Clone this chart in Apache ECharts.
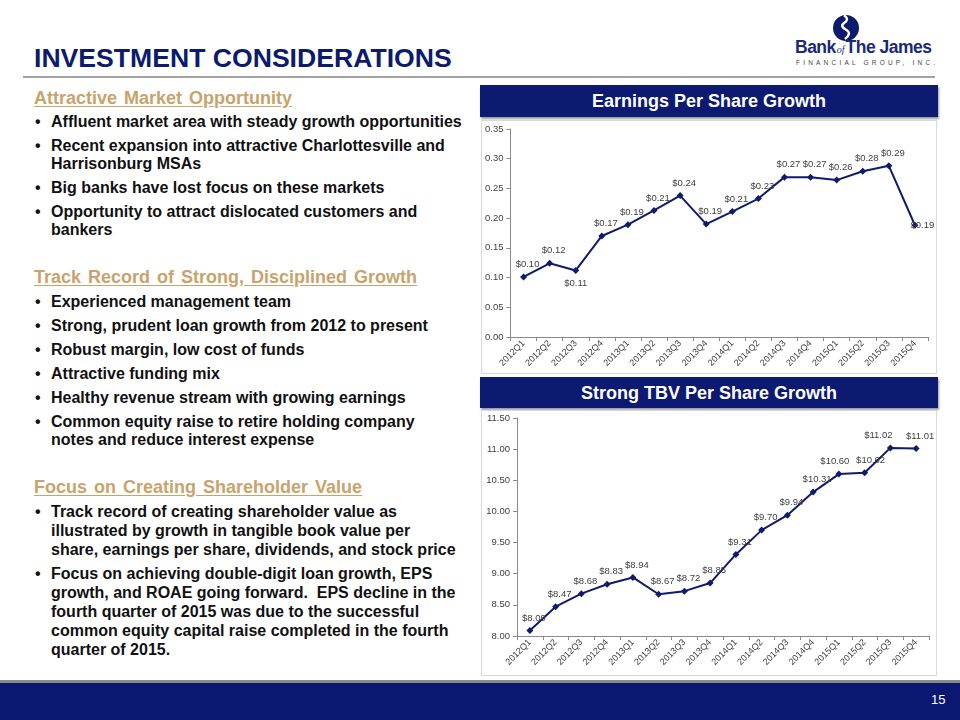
<!DOCTYPE html>
<html>
<head>
<meta charset="utf-8">
<script src="https://cdn.jsdelivr.net/npm/echarts@6/dist/echarts.min.js"></script>
<style>
  html,body{margin:0;padding:0;}
  body{width:960px;height:720px;position:relative;background:#fff;overflow:hidden;font-family:'Liberation Sans',Arial,sans-serif;}
  .abs{position:absolute;}
  .title{left:34px;top:43px;font-size:26.6px;font-weight:bold;color:#0c1b6e;line-height:30px;white-space:nowrap;}
  .head{left:34px;font-size:18px;font-weight:bold;color:#c9a36b;text-decoration:underline;text-underline-offset:2px;line-height:20px;white-space:nowrap;word-spacing:2px;}
  .list{left:34px;width:440px;font-size:16px;font-weight:bold;color:#111;}
  .b{position:relative;padding-left:17px;}
  .b:before{content:"\2022";position:absolute;left:1px;top:0;}
  .s1 .b{line-height:18px;margin-bottom:6px;}
  .s3 .b{line-height:19px;margin-bottom:5px;}
  .hbox{left:480px;width:458px;background:#0c1a72;color:#fff;font-size:18px;font-weight:bold;text-align:center;box-shadow:1px 2px 2px #9a9a9a;}
  .cbox{left:481px;width:456px;border:1px solid #d9d9d9;box-sizing:border-box;background:#fff;}
  .cbox div.c{width:100%;height:100%;}
</style>
</head>
<body>
<div class="abs title">INVESTMENT CONSIDERATIONS</div>

<!-- logo -->
<svg class="abs" style="left:820px;top:8px" width="60" height="40" viewBox="820 8 60 40">
  <circle cx="846" cy="28" r="13" fill="#0c1b6e"/>
  <path d="M844 15.5 q6 3.5 0 7.5 q-4.5 3.5 2.5 7 q5.5 3.5 -1.5 9" stroke="#fff" stroke-width="2.4" fill="none"/>
</svg>
<div class="abs" style="left:795px;top:37px;font-size:17.5px;font-weight:bold;color:#1a2a78;letter-spacing:-0.5px;white-space:nowrap;line-height:20px;">Bank<span style="font-size:10px;font-style:italic;font-weight:normal;letter-spacing:0;font-family:'Liberation Serif',serif;margin:0 1px;">of</span>The James</div>
<div class="abs" style="left:796px;top:59px;width:142px;font-size:6.5px;color:#444;letter-spacing:3.2px;white-space:nowrap;line-height:8px;">FINANCIAL GROUP, INC.</div>

<div class="abs" style="left:23px;top:76px;width:912px;height:2px;background:#a3a3a3;"></div>

<!-- left text -->
<div class="abs head" style="top:88px;">Attractive Market Opportunity</div>
<div class="abs list s1" style="top:113px;">
  <div class="b">Affluent market area with steady growth opportunities</div>
  <div class="b">Recent expansion into attractive Charlottesville and<br>Harrisonburg MSAs</div>
  <div class="b">Big banks have lost focus on these markets</div>
  <div class="b">Opportunity to attract dislocated customers and<br>bankers</div>
</div>

<div class="abs head" style="top:267px;">Track Record of Strong, Disciplined Growth</div>
<div class="abs list s1" style="top:293px;">
  <div class="b">Experienced management team</div>
  <div class="b">Strong, prudent loan growth from 2012 to present</div>
  <div class="b">Robust margin, low cost of funds</div>
  <div class="b">Attractive funding mix</div>
  <div class="b">Healthy revenue stream with growing earnings</div>
  <div class="b">Common equity raise to retire holding company<br>notes and reduce interest expense</div>
</div>

<div class="abs head" style="top:477px;">Focus on Creating Shareholder Value</div>
<div class="abs list s3" style="top:502px;">
  <div class="b">Track record of creating shareholder value as<br>illustrated by growth in tangible book value per<br>share, earnings per share, dividends, and stock price</div>
  <div class="b">Focus on achieving double-digit loan growth, EPS<br>growth, and ROAE going forward.&nbsp; EPS decline in the<br>fourth quarter of 2015 was due to the successful<br>common equity capital raise completed in the fourth<br>quarter of 2015.</div>
</div>

<!-- chart headers and boxes -->
<div class="abs hbox" style="top:85px;height:32px;line-height:33px;">Earnings Per Share Growth</div>
<div class="abs cbox" style="top:120px;height:254px;"><div class="c" id="c1"></div></div>
<div class="abs hbox" style="top:377px;height:31px;line-height:32px;">Strong TBV Per Share Growth</div>
<div class="abs cbox" style="top:410px;height:266px;"><div class="c" id="c2"></div></div>

<!-- footer -->
<div class="abs" style="left:0;top:680px;width:960px;height:3px;background:#8c8c8c;"></div>
<div class="abs" style="left:0;top:683px;width:960px;height:37px;background:#0a1872;"></div>
<div class="abs" style="left:931px;top:692px;font-size:13px;color:#fff;line-height:16px;">15</div>

<script>
const quarters = ['2012Q1','2012Q2','2012Q3','2012Q4','2013Q1','2013Q2','2013Q3','2013Q4',
                  '2014Q1','2014Q2','2014Q3','2014Q4','2015Q1','2015Q2','2015Q3','2015Q4'];
const epsValues = [0.101,0.124,0.112,0.170,0.189,0.213,0.238,0.190,0.211,0.233,0.269,0.269,0.264,0.279,0.288,0.188];
const tbvValues = [8.09,8.47,8.68,8.83,8.94,8.67,8.72,8.85,9.31,9.70,9.94,10.31,10.60,10.62,11.02,11.01];
const epsAxis = {min:0, max:0.35, interval:0.05};
const tbvAxis = {min:8, max:11.5, interval:0.5};

const NAVY = '#0f1b6c';
const AXIS = '#8a8a8a';
const TXT = '#404040';
const FONT = "'Liberation Sans', Arial, sans-serif";

function build(values, axis, grid, labelFor) {
  return {
    animation:false,
    grid: grid,
    xAxis:{
      type:'category', data:quarters, boundaryGap:true,
      axisLine:{lineStyle:{color:AXIS,width:1}},
      axisTick:{show:true,length:4,lineStyle:{color:AXIS}},
      axisLabel:{rotate:45,interval:0,fontSize:9,color:TXT,margin:5,fontFamily:FONT}
    },
    yAxis:{
      type:'value', min:axis.min, max:axis.max, interval:axis.interval,
      axisLine:{show:true,lineStyle:{color:AXIS,width:1}},
      axisTick:{show:true,length:4,lineStyle:{color:AXIS}},
      splitLine:{show:false},
      axisLabel:{fontSize:9.5,color:TXT,margin:7,fontFamily:FONT,formatter:v=>v.toFixed(2)}
    },
    series:[{
      type:'line',
      data: values.map((v,i)=>{ const l = labelFor(i); return l ? {value:v,label:l} : v; }),
      symbol:'diamond', symbolSize:7,
      lineStyle:{color:NAVY,width:2},
      itemStyle:{color:NAVY},
      label:{show:true,position:'top',distance:4,offset:[4,0],fontSize:9.5,color:TXT,fontFamily:FONT,
             formatter:p=>'$'+Number(p.value).toFixed(2)}
    }]
  };
}

const c1 = echarts.init(document.getElementById('c1'));
c1.setOption(build(epsValues, epsAxis, {left:28,right:8,top:8,bottom:36},
  i => i===2 ? {position:'bottom',offset:[0,0]} : (i===15 ? {position:'right',offset:[-12,0]} : null)));

const c2 = echarts.init(document.getElementById('c2'));
c2.setOption(build(tbvValues, tbvAxis, {left:35,right:7,top:7,bottom:39},
  i => i===14 ? {offset:[-12,0]} : (i===12 ? {offset:[-4,0]} : (i===13 ? {offset:[6,0]} : null))));
</script>
</body>
</html>
